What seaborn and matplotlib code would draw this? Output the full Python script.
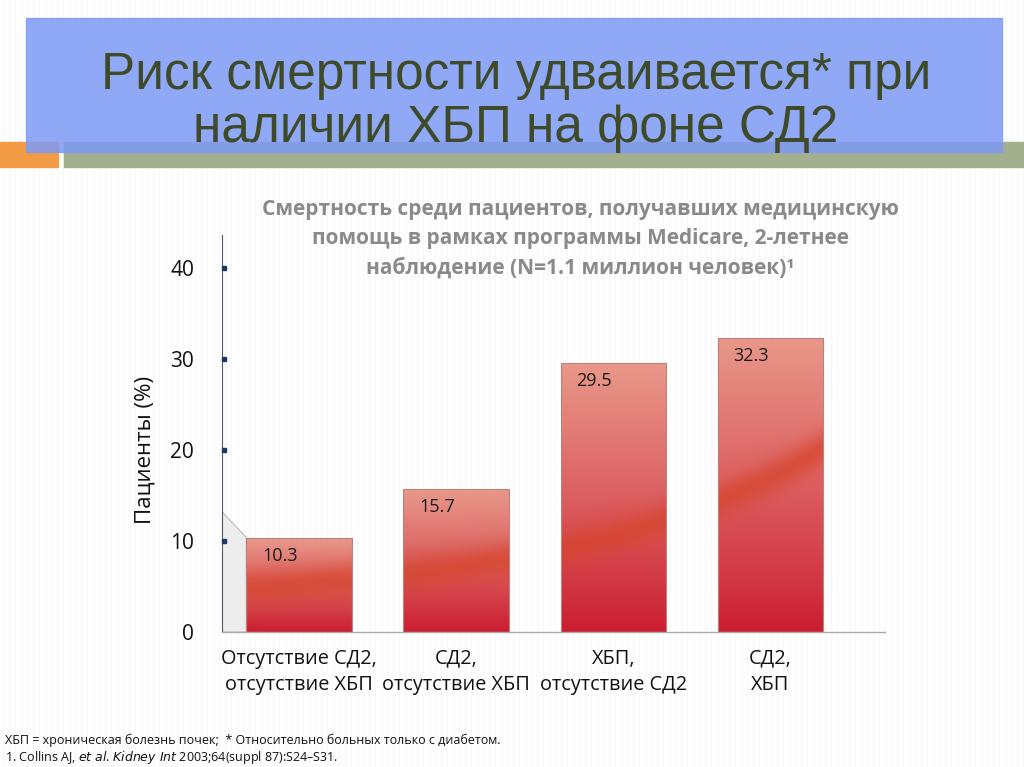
import numpy as np
import pandas as pd
import seaborn as sns
import matplotlib.pyplot as plt
from matplotlib.patches import Rectangle, Polygon

# data
categories = ["Отсутствие СД2,\nотсутствие ХБП", "СД2,\nотсутствие ХБП",
              "ХБП,\nотсутствие СД2", "СД2,\nХБП"]
mortality = [10.3, 15.7, 29.5, 32.3]
y_ticks = [0, 10, 20, 30, 40]

title = "Риск смертности удваивается* при\nналичии ХБП на фоне СД2"
subtitle = ("Смертность среди пациентов, получавших медицинскую\n"
            "помощь в рамках программы Medicare, 2-летнее\n"
            "наблюдение (N=1.1 миллион человек)\u00b9")
ylabel = "Пациенты (%)"
footnote1 = "ХБП = хроническая болезнь почек;  * Относительно больных только с диабетом."
footnote2 = "1. Collins AJ, $\\it{et\\ al}$. $\\it{Kidney\\ Int}$ 2003;64(suppl 87):S24\u2013S31."

sns.set_theme(style="white")
plt.rcParams['font.family'] = ['Open Sans', 'DejaVu Sans']

fig = plt.figure(figsize=(10.24, 7.67), dpi=100)

# faint striped slide background
bg = fig.add_axes([0, 0, 1, 1], zorder=-10)
stripes = np.tile(np.array([1.0, 1.0, 1.0, 0.965, 1.0, 1.0]), 171)[None, :1024]
bg.imshow(stripes, cmap="gray", vmin=0, vmax=1, aspect="auto", extent=[0, 1, 0, 1])
bg.set_axis_off()

# title banner
fig.patches.append(Rectangle((0, 1 - 167 / 767), 58 / 1024, 25 / 767,
                             transform=fig.transFigure, color="#F49C45", zorder=1))
fig.patches.append(Rectangle((64 / 1024, 1 - 167 / 767), 960 / 1024, 25 / 767,
                             transform=fig.transFigure, color="#A2B08E", zorder=1))
fig.patches.append(Rectangle((26 / 1024, 1 - 152 / 767), 976 / 1024, 134 / 767,
                             transform=fig.transFigure, color="#7D9AF5", alpha=0.85,
                             zorder=2))
fig.text(0.504, 1 - 102 / 767, title, ha="center", va="center", fontsize=37,
         color="#3E4A2A", linespacing=1.12, zorder=3,
         family=['Liberation Sans', 'DejaVu Sans'])

# chart
ax = fig.add_axes([222 / 1024, 1 - 632 / 767, 663 / 1024, 397 / 767])
df = pd.DataFrame({"group": categories, "value": mortality})
sns.barplot(data=df, x="group", y="value", ax=ax, width=0.67, color="#D9585A",
            saturation=1, zorder=2)

top_col = np.array([233, 152, 138]) / 255
bot_col = np.array([203, 28, 48]) / 255
band_col = np.array([214, 70, 45]) / 255


def band_curve(x):
    return 2.2 * 1.85 ** x + 3


for patch, val in zip(ax.patches, mortality):
    x0, w, h = patch.get_x(), patch.get_width(), patch.get_height()
    ys = np.linspace(h, 0, 300)[:, None]
    xs = np.linspace(x0, x0 + w, 60)[None, :]
    t = (ys / h) ** 0.9
    img = bot_col + (top_col - bot_col) * t[..., None]
    img = np.broadcast_to(img, (300, 60, 3)).copy()
    wgt = 0.75 * np.exp(-((ys - band_curve(xs)) / 1.9) ** 2)
    img = img * (1 - wgt[..., None]) + band_col * wgt[..., None]
    patch.set_facecolor("none")
    patch.set_edgecolor("#B9827E")
    patch.set_linewidth(0.8)
    im = ax.imshow(img, extent=[x0, x0 + w, 0, h], aspect="auto", zorder=1.5)
    im.set_clip_path(patch)
    ax.text(x0 + 0.1, val - 1.0, f"{val}", ha="left", va="top", fontsize=13,
            color="#1A1A1A", zorder=4)

# left wall of the pseudo-3D frame
wall = Polygon([(-0.49, 0.0), (-0.49, 13.2), (-0.335, 10.4), (-0.335, 0.0)],
               closed=True, facecolor="#EDEDED", edgecolor="#BDBDBD", lw=0.8, zorder=1)
ax.add_patch(wall)

ax.set_xlim(-0.49, 3.73)
ax.set_ylim(0, 43.6)
ax.set_yticks(y_ticks)
ax.plot([-0.475] * 4, y_ticks[1:], "s", ms=3, color="#1F3864", zorder=5, clip_on=False)
ax.tick_params(axis="y", length=0, pad=20, labelsize=15, labelcolor="#111111")
ax.tick_params(axis="x", length=0, pad=12, labelsize=14.3, labelcolor="#111111")
for lbl in ax.get_xticklabels():
    lbl.set_linespacing(1.4)
ax.set_xlabel("")
ax.set_ylabel(ylabel, fontsize=16, color="#111111", labelpad=10)
ax.yaxis.set_label_coords(-0.10, 0.458)
sns.despine(ax=ax, top=True, right=True)
ax.spines["left"].set_color("#555566")
ax.spines["left"].set_linewidth(0.8)
ax.spines["bottom"].set_color("#AAAAAA")
ax.spines["bottom"].set_linewidth(1.0)
ax.patch.set_alpha(0)

fig.text(580 / 1024, 1 - 239 / 767, subtitle, ha="center", va="center", fontsize=15,
         fontweight="bold", color="#8A8A8A", linespacing=1.5)

fig.text(5 / 1024, 1 - 740 / 767, footnote1, ha="left", va="center", fontsize=9,
         color="#111111")
fig.text(5 / 1024, 1 - 757 / 767, footnote2, ha="left", va="center", fontsize=9,
         color="#111111")

fig.savefig("out.png", dpi=100)
